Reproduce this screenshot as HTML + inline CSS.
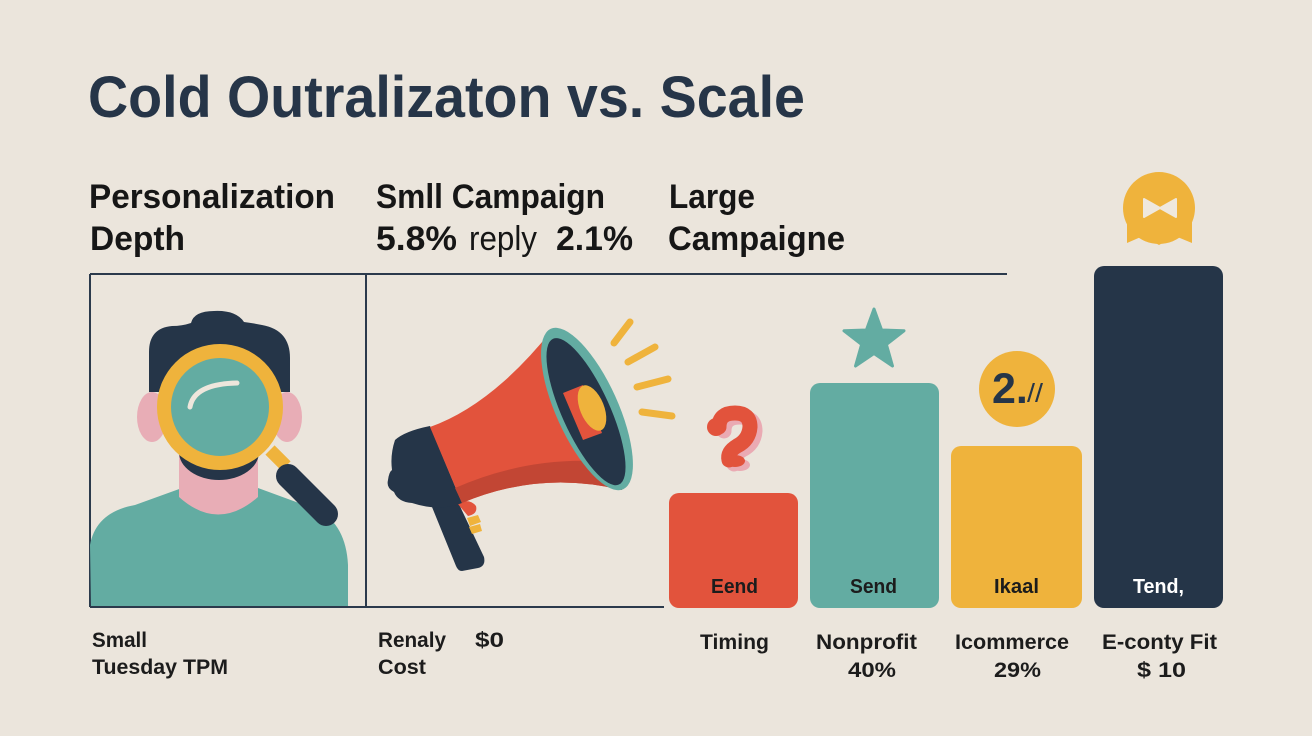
<!DOCTYPE html>
<html><head><meta charset="utf-8"><style>
html,body{margin:0;padding:0;background:#ebe5dc;}
svg{display:block;}
text{font-family:"Liberation Sans",sans-serif;}
</style></head><body>
<svg width="1312" height="736" viewBox="0 0 1312 736" xmlns="http://www.w3.org/2000/svg">
<rect width="1312" height="736" fill="#ebe5dc"/>

<!-- Title -->
<text x="88" y="117" font-size="58" font-weight="bold" fill="#263548" textLength="717" lengthAdjust="spacingAndGlyphs">Cold Outralizaton vs. Scale</text>

<!-- Headers -->
<g font-size="34" font-weight="bold" fill="#161616">
<text x="89" y="208" textLength="246" lengthAdjust="spacingAndGlyphs">Personalization</text>
<text x="90" y="250" textLength="95" lengthAdjust="spacingAndGlyphs">Depth</text>
<text x="376" y="208" textLength="229" lengthAdjust="spacingAndGlyphs">Smll Campaign</text>
<text x="376" y="250" textLength="81" lengthAdjust="spacingAndGlyphs">5.8%</text>
<text x="469" y="250" font-weight="normal" textLength="68" lengthAdjust="spacingAndGlyphs">reply</text>
<text x="556" y="250" textLength="77" lengthAdjust="spacingAndGlyphs">2.1%</text>
<text x="669" y="208" textLength="86" lengthAdjust="spacingAndGlyphs">Large</text>
<text x="668" y="250" textLength="177" lengthAdjust="spacingAndGlyphs">Campaigne</text>
</g>

<!-- Frame lines -->
<g stroke="#2b3a4c" stroke-width="2" fill="none">
<path d="M90 274 H1007"/>
<path d="M90 274 V607"/>
<path d="M366 274 V607"/>
<path d="M90 607 H664"/>
</g>

<!-- Person -->
<path d="M90 545 Q96 512 135 505 L182 488 L258 488 L318 510 Q346 525 348 565 L348 606 L91 606 Z" fill="#63aca2"/>
<path d="M179 440 L179 497 Q218 532 258 497 L258 440 Z" fill="#e8adb6"/>
<ellipse cx="152" cy="417" rx="15" ry="25" fill="#e8adb6"/>
<ellipse cx="287" cy="417" rx="15" ry="25" fill="#e8adb6"/>
<path d="M149 392 L149 352 Q149 328 172 326 Q182 326 191 323 Q194 311 214 311 Q236 310 244 322 Q252 323 262 325 Q290 330 290 358 L290 392 Z" fill="#253548"/>
<ellipse cx="219" cy="452" rx="40" ry="28" fill="#253548"/>
<line x1="270" y1="450" x2="286" y2="466" stroke="#efb33c" stroke-width="13"/>
<line x1="288" y1="476" x2="326" y2="514" stroke="#253548" stroke-width="24" stroke-linecap="round"/>
<circle cx="220" cy="407" r="56" fill="#63aca2" stroke="#efb33c" stroke-width="14"/>
<path d="M190 407 Q194 384 237 383" stroke="#eee6dc" stroke-width="5" fill="none" stroke-linecap="round"/>

<!-- Megaphone -->
<path d="M432 507 L457 500 L484 557 Q486 566 478 568 L462 571 Q458 571 456 566 Z" fill="#253548"/>
<path d="M457 503 Q470 498 476 506 Q478 514 468 516 Z" fill="#e2533c"/>
<path d="M467 518 L478 515 L481 522 L470 526 Z M469 527 L480 524 L482 531 L472 534 Z" fill="#efb33c"/>
<path d="M395 440 Q405 431 430 426 L462 503 Q440 512 412 503 Q398 502 394 492 Q386 488 388 480 Q389 472 392 470 Q390 455 395 440 Z" fill="#253548"/>
<path d="M430 427 Q492 405 552 330 L622 490 Q540 470 462 503 Z" fill="#e2533c"/>
<path d="M455 488 Q530 455 610 462 L622 490 Q540 470 462 503 Z" fill="#c24634"/>
<g transform="translate(587,409) rotate(65.7)">
<ellipse cx="0" cy="0" rx="88" ry="31" fill="#63aca2"/>
<ellipse cx="2" cy="2" rx="80" ry="24" fill="#253548"/>
</g>
<path d="M563 393 L583 385 L602 433 L583 440 Z" fill="#e2533c"/>
<ellipse cx="592" cy="408" rx="12" ry="24" transform="rotate(-22 592 408)" fill="#efb33c"/>
<g stroke="#efb33c" stroke-width="7" stroke-linecap="round">
<line x1="614" y1="343" x2="630" y2="322"/>
<line x1="628" y1="362" x2="655" y2="347"/>
<line x1="637" y1="387" x2="668" y2="379"/>
<line x1="642" y1="412" x2="672" y2="416"/>
</g>

<!-- Bars -->
<rect x="669" y="493" width="129" height="115" rx="10" fill="#e2533c"/>
<rect x="810" y="383" width="129" height="225" rx="10" fill="#63aca2"/>
<rect x="951" y="446" width="131" height="162" rx="10" fill="#efb33c"/>
<rect x="1094" y="266" width="129" height="342" rx="10" fill="#253548"/>

<g font-size="20" font-weight="bold">
<text x="711" y="593" fill="#1c1c1c" textLength="47" lengthAdjust="spacingAndGlyphs">Eend</text>
<text x="850" y="593" fill="#1c1c1c" textLength="47" lengthAdjust="spacingAndGlyphs">Send</text>
<text x="994" y="593" fill="#1c1c1c" textLength="45" lengthAdjust="spacingAndGlyphs">Ikaal</text>
<text x="1133" y="593" fill="#ffffff" textLength="51" lengthAdjust="spacingAndGlyphs">Tend,</text>
</g>

<!-- Question mark -->
<g transform="translate(5,4)">
<path d="M719 427 Q719 413 735 413 Q750 413 750 427 Q749 440 737 446 Q727 452 729 460" stroke="#eaaab3" stroke-width="15" fill="none" stroke-linecap="round" stroke-linejoin="round"/>
<ellipse cx="735" cy="461" rx="10" ry="6" fill="#eaaab3"/>
</g>
<path d="M719 427 Q719 413 735 413 Q750 413 750 427 Q749 440 737 446 Q727 452 729 460" stroke="#e2533c" stroke-width="15" fill="none" stroke-linecap="round" stroke-linejoin="round"/>
<ellipse cx="735" cy="461" rx="10" ry="6" fill="#e2533c"/>
<circle cx="716" cy="427" r="9" fill="#e2533c"/>

<!-- Star -->
<path d="M874 309 L881.6 330 L904 330.8 L886.4 344.5 L892.5 366 L874 353.5 L855.5 366 L861.6 344.5 L844 330.8 L866.4 330 Z" fill="#63aca2" stroke="#63aca2" stroke-width="3" stroke-linejoin="round"/>

<!-- 2.// circle -->
<circle cx="1017" cy="389" r="38" fill="#efb33c"/>
<text x="992" y="403" font-size="43" font-weight="bold" fill="#253548">2.</text>
<text x="1027" y="402" font-size="26" fill="#253548" textLength="16" lengthAdjust="spacingAndGlyphs">//</text>

<!-- Badge -->
<path d="M1127 212 L1127 243 L1143 236 L1159 245 L1175 236 L1192 243 L1192 212 Z" fill="#efb33c"/>
<circle cx="1159" cy="208" r="36" fill="#efb33c"/>
<path d="M1144 199 L1160 208 L1176 199 L1176 217 L1160 208 L1144 217 Z" fill="#efe8dd" stroke="#efe8dd" stroke-width="2" stroke-linejoin="round"/>

<!-- Bottom labels -->
<g font-size="21" font-weight="bold" fill="#1c1c1c">
<text x="92" y="647" textLength="55" lengthAdjust="spacingAndGlyphs">Small</text>
<text x="92" y="674" textLength="136" lengthAdjust="spacingAndGlyphs">Tuesday TPM</text>
<text x="378" y="647" textLength="68" lengthAdjust="spacingAndGlyphs">Renaly</text>
<text x="475" y="647" textLength="29" lengthAdjust="spacingAndGlyphs">$0</text>
<text x="378" y="674" textLength="48" lengthAdjust="spacingAndGlyphs">Cost</text>
<text x="700" y="649" textLength="69" lengthAdjust="spacingAndGlyphs">Timing</text>
<text x="816" y="649" textLength="101" lengthAdjust="spacingAndGlyphs">Nonprofit</text>
<text x="848" y="677" textLength="48" lengthAdjust="spacingAndGlyphs">40%</text>
<text x="955" y="649" textLength="114" lengthAdjust="spacingAndGlyphs">Icommerce</text>
<text x="994" y="677" textLength="47" lengthAdjust="spacingAndGlyphs">29%</text>
<text x="1102" y="649" textLength="115" lengthAdjust="spacingAndGlyphs">E-conty Fit</text>
<text x="1137" y="677" textLength="49" lengthAdjust="spacingAndGlyphs">$ 10</text>
</g>
</svg>
</body></html>
